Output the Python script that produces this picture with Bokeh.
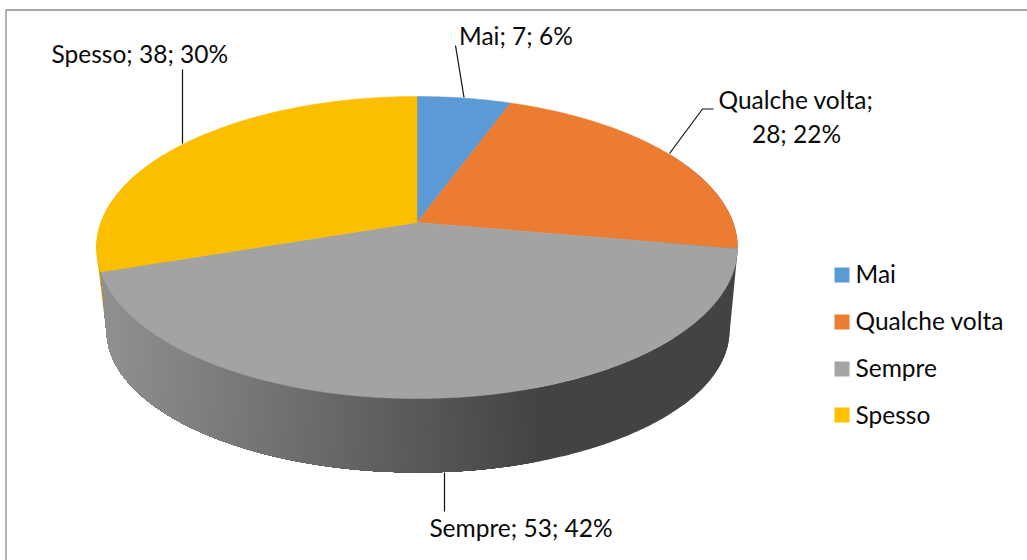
import numpy as np
from bokeh.plotting import figure
from bokeh.models import Range1d
from bokeh.core.properties import value
from bokeh.embed import file_html
from bokeh.resources import INLINE

# ---- data ----
categories = ["Mai", "Qualche volta", "Sempre", "Spesso"]
values = [7, 28, 53, 38]
colors = ["#5B9AD5", "#EB7C31", "#A3A3A3", "#FBBF00"]
legend_colors = ["#5B9BD5", "#ED7D31", "#A5A5A5", "#FFC000"]

# ---- layout ----
W, H = 1027, 560
FONT = "Lato"
FS = "24.5px"
DY = -9                         # the page's text sits this much below its anchor
K = 0.1656                      # perspective strength of the disc
TOP = dict(cx=416.5, cy=222.0, a=316.1, b=146.9)
BOT = dict(cx=417.5, cy=306.5, a=307.2, b=138.1)
WALL_SKEW = 78 / 71.4           # the side's edges converge towards the bottom


def rim(theta, d):
    """Project angle(s) (radians, clockwise from the back) on the tilted disc."""
    u, v = np.sin(theta), np.cos(theta)
    den = 1 + K * v
    return d["cx"] + d["a"] * u / den, d["cy"] - d["b"] * v / den


def bottom_angle(t):
    return np.pi + (t - np.pi) * WALL_SKEW


def hull(xs, ys):
    pts = sorted(set(zip(np.round(xs, 3).tolist(), np.round(ys, 3).tolist())))

    def half(seq):
        out = []
        for q in seq:
            while len(out) > 1 and (out[-1][0] - out[-2][0]) * (q[1] - out[-2][1]) - (out[-1][1] - out[-2][1]) * (q[0] - out[-2][0]) <= 0:
                out.pop()
            out.append(q)
        return out[:-1]

    h = half(pts) + half(pts[::-1])
    return [q[0] for q in h], [q[1] for q in h]


total = sum(values)
edges = 2 * np.pi * np.concatenate([[0], np.cumsum(values)]) / total
pct = [round(100 * v / total) for v in values]
labels = [f"{c}; {v}; {q}%" for c, v, q in zip(categories, values, pct)]

p = figure(width=W, height=H, output_backend="svg", toolbar_location=None,
           x_range=Range1d(0, W), y_range=Range1d(H, 0), min_border=0,
           outline_line_color=None, background_fill_color="white", border_fill_color="white")
p.xaxis.visible = False
p.yaxis.visible = False
p.grid.visible = False

# chart-area border
p.line([5.5, 5.5, W], [H, 9.5, 9.5], line_color="#8A8A8A", line_width=1.3)


def grey_level(x):
    return int(round(np.interp(x, [105, 540], [0x90, 0x43])))


def side(t0, t1):
    ts = np.linspace(t0, t1, max(int(np.degrees(t1 - t0)) * 2, 2))
    x0, y0 = rim(ts, TOP)
    x1, y1 = rim(bottom_angle(ts), BOT)
    return np.r_[x0, x1[::-1]], np.r_[y0, y1[::-1]]


# silhouette pieces: the dark right end and the sliver of the "Spesso" side
ts = np.radians(np.arange(60, 131, 1.0))
rx = np.r_[rim(ts, TOP)[0], rim(ts, BOT)[0]]
ry = np.r_[rim(ts, TOP)[1], rim(ts, BOT)[1]]
hx, hy = hull(rx, ry)
p.patch(hx, hy, fill_color="#434343", line_color=None)

ts = np.linspace(edges[3], np.radians(300), 80)
rx = np.r_[rim(ts, TOP)[0], rim(bottom_angle(edges[3]) + (ts - edges[3]), BOT)[0]]
ry = np.r_[rim(ts, TOP)[1], rim(bottom_angle(edges[3]) + (ts - edges[3]), BOT)[1]]
hx, hy = hull(rx, ry)
p.patch(hx, hy, fill_color="#DDA500", line_color=None)

# the "Sempre" side: painted right-to-left, one polygon per grey level,
# each one reaching to the far end so that no seams appear
t_start, t_end = np.radians(100), edges[3]
thetas = np.linspace(t_start, t_end, 640)
mid_x = (rim(thetas, TOP)[0] + rim(bottom_angle(thetas), BOT)[0]) / 2
last = None
for t, x in zip(thetas, mid_x):
    g = grey_level(x)
    if g != last:
        sx, sy = side(t, t_end)
        c = f"#{g:02x}{g:02x}{g:02x}"
        p.patch(sx, sy, fill_color=c, line_color=None)
        last = g

# top faces
for i in range(len(values)):
    n = max(int(np.degrees(edges[i + 1] - edges[i])), 2) * 2
    t = np.linspace(edges[i], edges[i + 1], n)
    x, y = rim(t, TOP)
    p.patch(np.r_[TOP["cx"], x], np.r_[TOP["cy"], y], fill_color=colors[i], line_color=colors[i], line_width=0.5)

# leader lines
leader_xs = [[455, 463.5], [713, 702, 669], [444, 444], [182, 182]]
leader_ys = [[45, 97], [108.5, 108.5, 153], [472, 511], [69, 143]]
p.multi_line(leader_xs, leader_ys, line_color="#111111", line_width=1.2)

# data labels
txt = dict(text_font=value(FONT), text_font_size=value(FS), text_color="#0A0A0A", text_baseline="alphabetic")
p.text([458.5], [44 + DY], text=[labels[0]], text_align="left", **txt)
first, second = "Qualche volta;", labels[1].split("; ", 1)[1]
p.text([718], [108 + DY], text=[first], text_align="left", **txt)
p.text([796], [142 + DY], text=[second], text_align="center", **txt)
p.text([520.5], [536 + DY], text=[labels[2]], text_align="center", **txt)
p.text([51], [62 + DY], text=[labels[3]], text_align="left", **txt)

# legend
legend_top = [267, 314, 361, 407]
legend_base = [282 + DY, 329 + DY, 376 + DY, 423 + DY]
p.quad(left=[834] * 4, right=[849] * 4, top=legend_top, bottom=[t + 15 for t in legend_top],
       fill_color=legend_colors, line_color=None)
p.text([855] * 4, legend_base, text=categories, text_align="left", **txt)

open("out.html", "w").write(file_html(p, INLINE))
